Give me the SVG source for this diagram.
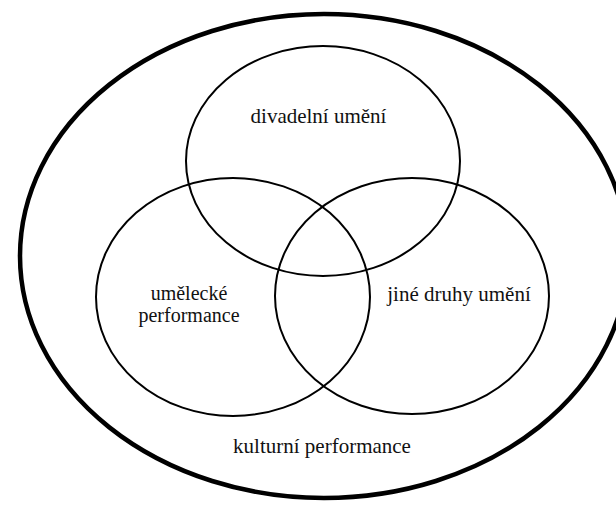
<svg xmlns="http://www.w3.org/2000/svg" width="616" height="506" viewBox="0 0 616 506">
  <style>
    .outer { fill: none; stroke: #000; stroke-width: 4.5; }
    .set { fill: none; stroke: #000; stroke-width: 2; }
    .lbl { font-family: "Liberation Serif", "Times New Roman", serif; font-size: 21px; fill: #111; text-anchor: middle; }
    .sm { font-size: 20px; }
  </style>
  <rect width="616" height="506" fill="#fff"/>
  <g id="kulturni-performance">
    <ellipse class="outer" cx="324" cy="256" rx="304" ry="242"/>
    <text class="lbl" x="322" y="453">kulturní performance</text>
  </g>
  <g id="divadelni-umeni">
    <ellipse class="set" cx="323" cy="161" rx="137" ry="115"/>
    <text class="lbl" x="318.5" y="123">divadelní umění</text>
  </g>
  <g id="umelecke-performance">
    <ellipse class="set" cx="233" cy="297" rx="137" ry="119"/>
    <text class="lbl sm" x="189" y="300">umělecké</text>
    <text class="lbl sm" x="189" y="322">performance</text>
  </g>
  <g id="jine-druhy-umeni">
    <ellipse class="set" cx="412" cy="296" rx="137" ry="118"/>
    <text class="lbl" x="459" y="301">jiné druhy umění</text>
  </g>
  <g id="connectors"></g>
</svg>
